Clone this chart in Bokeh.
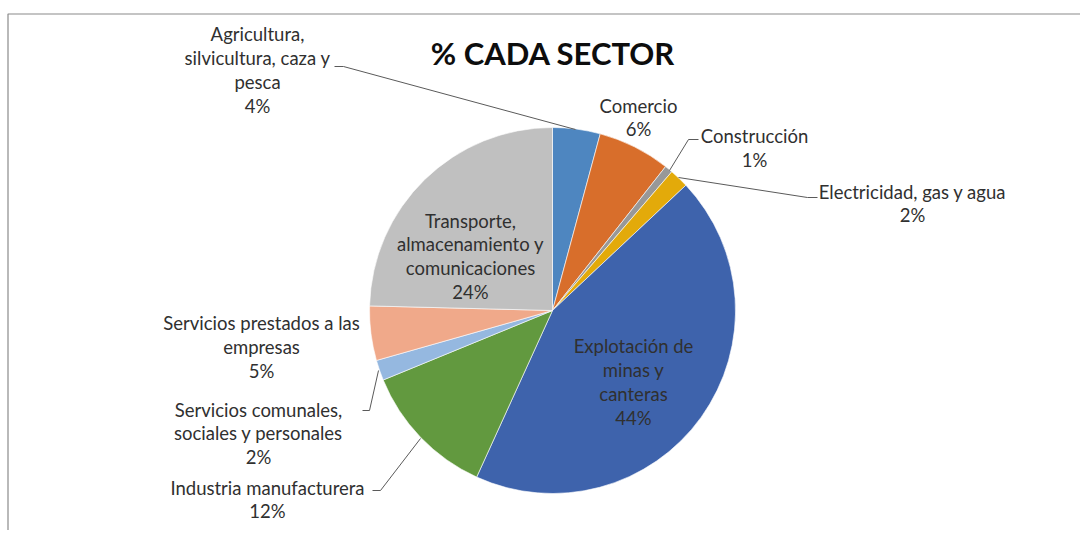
import math
from bokeh.plotting import figure
from bokeh.models import Range1d, ColumnDataSource
from bokeh.core.properties import value
from bokeh.embed import file_html
from bokeh.resources import INLINE

# ---- data ----
sectors = [
    "Agricultura,\nsilvicultura, caza y\npesca",
    "Comercio",
    "Construcción",
    "Electricidad, gas y agua",
    "Explotación de\nminas y\ncanteras",
    "Industria manufacturera",
    "Servicios comunales,\nsociales y personales",
    "Servicios prestados a las\nempresas",
    "Transporte,\nalmacenamiento y\ncomunicaciones",
]
shares = [4.2, 6.4, 0.7, 1.7, 43.8, 12.0, 1.8, 4.8, 24.6]
pct_labels = ["4%", "6%", "1%", "2%", "44%", "12%", "2%", "5%", "24%"]
colors = ["#4E86C0", "#D86E2B", "#989898", "#E3AA0A", "#3E63AC",
          "#62993F", "#95B8E0", "#F0A98A", "#C0C0C0"]
title_text = "% CADA SECTOR"

# ---- layout (screen pixels; y drawn as negative) ----
W, H = 1080, 530
cx, cy, R = 552, -310, 183
label_pos = [(257, -69.5), (638, -117), (754, -147.5), (912, -203),
             (633, -381.5), (267, -499), (258, -433), (261, -346.5), (470, -256)]
leaders = {
    0: ([334, 343, 575], [-66, -66, -129]),
    2: ([698, 688, 669], [-139, -139, -170]),
    3: ([817, 807, 678], [-197, -197, -177]),
    5: ([372, 380, 420], [-490, -490, -438]),
    6: ([362, 369, 378], [-410, -410, -370]),
}

p = figure(width=W, height=H, x_range=Range1d(0, W), y_range=Range1d(-H, 0),
           output_backend="svg", toolbar_location=None, min_border=0)
p.axis.visible = False
p.grid.visible = False
p.outline_line_color = None
p.background_fill_color = "white"

total = sum(shares)
starts, ends = [], []
cum = 0.0
for s in shares:
    starts.append(math.pi / 2 - 2 * math.pi * cum / total)
    cum += s
    ends.append(math.pi / 2 - 2 * math.pi * cum / total)

src = ColumnDataSource(dict(start=starts, end=ends, color=colors))
p.wedge(x=cx, y=cy, radius=R, start_angle="start", end_angle="end",
        direction="clock", fill_color="color", line_color="white",
        line_width=0.6, source=src)

# leader lines
for i, (xs, ys) in leaders.items():
    p.line(xs, ys, line_color="#5a5a5a", line_width=1)

texts = [f"{s}\n{pc}" for s, pc in zip(sectors, pct_labels)]
lsrc = ColumnDataSource(dict(x=[q[0] for q in label_pos], y=[q[1] for q in label_pos], t=texts))
p.text(x="x", y="y", text="t", source=lsrc, text_font=value("Lato"),
       text_font_size="18.5px", text_color="#303030", text_align="center",
       text_baseline="middle", text_line_height=1.09)

# title
p.text(x=[552.5], y=[-52], text=[title_text], text_font=value("Lato"),
       text_font_size="31px", text_font_style="bold", text_color="#0d0d0d",
       text_align="center", text_baseline="middle")

# chart area border (top and left edges visible)
p.line([7.5, 7.5, W], [-H, -13.5, -13.5], line_color="#8a8a8a", line_width=1.2)

open("out.html", "w").write(file_html(p, INLINE))
